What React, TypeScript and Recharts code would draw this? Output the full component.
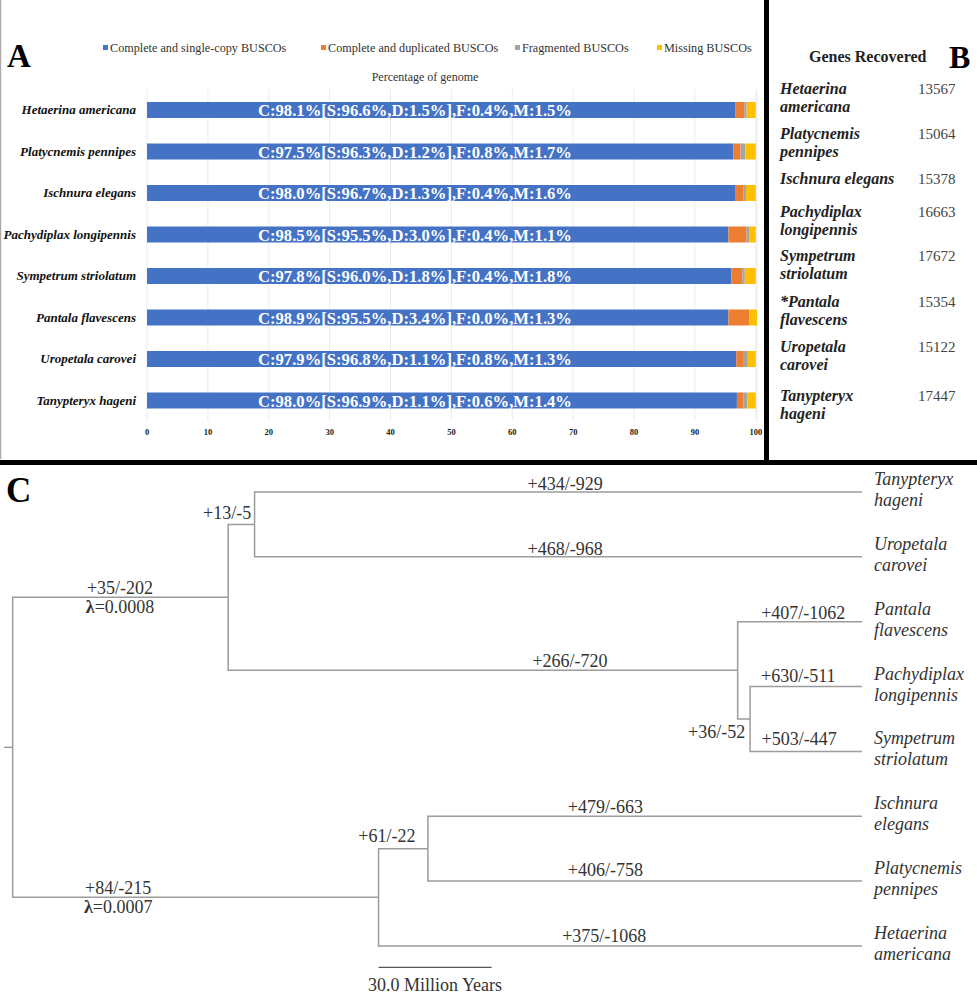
import React from "react";
import { BarChart, Bar, XAxis, YAxis, CartesianGrid, LabelList, ScatterChart, Scatter } from "recharts";

// ---- Panel A: BUSCO completeness ----
const species = [
  "Hetaerina americana",
  "Platycnemis pennipes",
  "Ischnura elegans",
  "Pachydiplax longipennis",
  "Sympetrum striolatum",
  "Pantala flavescens",
  "Uropetala carovei",
  "Tanypteryx hageni",
];
const completePct = [98.1, 97.5, 98.0, 98.5, 97.8, 98.9, 97.9, 98.0];
const singlePct = [96.6, 96.3, 96.7, 95.5, 96.0, 95.5, 96.8, 96.9];
const duplicatedPct = [1.5, 1.2, 1.3, 3.0, 1.8, 3.4, 1.1, 1.1];
const fragmentedPct = [0.4, 0.8, 0.4, 0.4, 0.4, 0.0, 0.8, 0.6];
const missingPct = [1.5, 1.7, 1.6, 1.1, 1.8, 1.3, 1.3, 1.4];
const pctTicks = [0, 10, 20, 30, 40, 50, 60, 70, 80, 90, 100];

const seriesKeys = ["single", "duplicated", "fragmented", "missing"];
const seriesNames = [
  "Complete and single-copy BUSCOs",
  "Complete and duplicated BUSCOs",
  "Fragmented BUSCOs",
  "Missing BUSCOs",
];
const seriesColors = ["#4472C4", "#ED7D31", "#A5A5A5", "#FFC000"];

// ---- Panel B: genes recovered ----
const tableNames = [
  ["Hetaerina", "americana"],
  ["Platycnemis", "pennipes"],
  ["Ischnura elegans"],
  ["Pachydiplax", "longipennis"],
  ["Sympetrum", "striolatum"],
  ["*Pantala", "flavescens"],
  ["Uropetala", "carovei"],
  ["Tanypteryx", "hageni"],
];
const genesRecovered = [13567, 15064, 15378, 16663, 17672, 15354, 15122, 17447];

// ---- Panel C: gene family gain/loss tree (ages in million years) ----
const treeNodes = ["root", "anis", "petal", "tany", "urop", "libel", "pant", "ps", "pach", "symp", "zyg", "ip", "isch", "platy", "het"];
const treeParents = [-1, 0, 1, 2, 2, 1, 5, 5, 7, 7, 0, 10, 11, 11, 10];
const treeAges = [225.4, 168.2, 161.2, 0, 0, 33.0, 0, 29.7, 0, 0, 128.3, 115.2, 0, 0, 0];
const branchGains = [0, 35, 13, 434, 468, 266, 407, 36, 630, 503, 84, 61, 479, 406, 375];
const branchLosses = [0, 202, 5, 929, 968, 720, 1062, 52, 511, 447, 215, 22, 663, 758, 1068];
const branchLambdas = [0, 0.0008, 0, 0, 0, 0, 0, 0, 0, 0, 0.0007, 0, 0, 0, 0];
const leafLabels: Record<string, string[]> = {
  tany: ["Tanypteryx", "hageni"],
  urop: ["Uropetala", "carovei"],
  pant: ["Pantala", "flavescens"],
  pach: ["Pachydiplax", "longipennis"],
  symp: ["Sympetrum", "striolatum"],
  isch: ["Ischnura", "elegans"],
  platy: ["Platycnemis", "pennipes"],
  het: ["Hetaerina", "americana"],
};
const scaleBarMy = 30;

// layout of the branch labels (age where the label sits, anchor, vertical shift)
const labelPlacement: Record<string, { at: number; anchor: string; dy: number }> = {
  anis: { at: 196.9, anchor: "middle", dy: -3 },
  petal: { at: 162.1, anchor: "end", dy: -5 },
  tany: { at: 78.8, anchor: "middle", dy: -2 },
  urop: { at: 78.8, anchor: "middle", dy: -2 },
  libel: { at: 77.5, anchor: "middle", dy: -3 },
  pant: { at: 15.6, anchor: "middle", dy: -3 },
  ps: { at: 31.0, anchor: "end", dy: 19 },
  pach: { at: 16.9, anchor: "middle", dy: -5 },
  symp: { at: 16.7, anchor: "middle", dy: -6 },
  zyg: { at: 197.4, anchor: "middle", dy: -3 },
  ip: { at: 126.1, anchor: "middle", dy: -7 },
  isch: { at: 68.1, anchor: "middle", dy: -3 },
  platy: { at: 68.1, anchor: "middle", dy: -5 },
  het: { at: 68.4, anchor: "middle", dy: -4 },
};
const tableBaselines = [94, 139, 184, 217, 261, 307, 352, 401];
const legendLeft = [103, 321, 515, 657];

const fmt = (v: number) => v.toFixed(1) + "%";

const barData = species.map((name, i) => ({
  name,
  single: singlePct[i],
  duplicated: duplicatedPct[i],
  fragmented: fragmentedPct[i],
  missing: missingPct[i],
  label: `C:${fmt(completePct[i])}[S:${fmt(singlePct[i])},D:${fmt(duplicatedPct[i])}],F:${fmt(fragmentedPct[i])},M:${fmt(missingPct[i])}`,
}));

// tree layout: leaves get consecutive rows, internal nodes sit at the mean of children
const childrenOf = treeNodes.map((_, i) => treeParents.map((p, j) => (p === i ? j : -1)).filter((j) => j >= 0));
const rowOf: number[] = [];
let leafCount = 0;
const placeNode = (i: number) => {
  if (childrenOf[i].length === 0) {
    rowOf[i] = leafCount++;
  } else {
    childrenOf[i].forEach(placeNode);
    rowOf[i] = childrenOf[i].reduce((s, c) => s + rowOf[c], 0) / childrenOf[i].length;
  }
};
placeNode(0);

const rootStub = 2.3;
const branches = treeNodes.map((_, i) => {
  if (i === 0) {
    return [
      { x: treeAges[0] + rootStub, y: rowOf[0] },
      { x: treeAges[0], y: rowOf[0] },
    ];
  }
  const p = treeParents[i];
  return [
    { x: treeAges[p], y: rowOf[p] },
    { x: treeAges[p], y: rowOf[i] },
    { x: treeAges[i], y: rowOf[i] },
  ];
});

const branchLabelData = treeNodes
  .map((id, i) => ({ id, i }))
  .filter((d) => d.i > 0)
  .map(({ id, i }) => ({
    x: labelPlacement[id].at,
    y: rowOf[i],
    text: `+${branchGains[i]}/-${branchLosses[i]}`,
    lambda: branchLambdas[i],
    anchor: labelPlacement[id].anchor,
    dy: labelPlacement[id].dy,
  }));

const leafData = treeNodes
  .map((id, i) => ({ id, i }))
  .filter((d) => childrenOf[d.i].length === 0)
  .map(({ id, i }) => ({ x: treeAges[i], y: rowOf[i], lines: leafLabels[id] }));

const scaleBarStart = treeAges[10];
const scaleBarRow = 7.33;
const scaleBar = [
  { x: scaleBarStart, y: scaleBarRow },
  { x: scaleBarStart - scaleBarMy, y: scaleBarRow },
];
const scaleText = [{ x: scaleBarStart - scaleBarMy / 2, y: scaleBarRow, text: `${scaleBarMy.toFixed(1)} Million Years` }];

const serif = '"Liberation Serif", "Times New Roman", serif';
const branchColor = "#9c9c9c";
const textColor = "#333";

const BarText = (props: any) => {
  const { x, y, height, value } = props;
  return (
    <text
      x={x + 111}
      y={y + height / 2 + 6}
      fill="#fff"
      fontSize={17}
      fontWeight="bold"
      textLength={314}
      lengthAdjust="spacingAndGlyphs"
    >
      {value}
    </text>
  );
};

const SpeciesTick = (props: any) => {
  const { x, y, payload } = props;
  return (
    <text x={x} y={y} dy={4.5} textAnchor="end" fontSize={13} fontWeight="bold" fontStyle="italic" fill="#111">
      {payload.value}
    </text>
  );
};

const NoDot = () => <g />;

const BranchLabel = (props: any) => {
  const { cx, cy, payload } = props;
  return (
    <g>
      <text x={cx} y={cy + payload.dy} textAnchor={payload.anchor} fontSize={18} fill={textColor}>
        {payload.text}
      </text>
      {payload.lambda ? (
        <text x={cx} y={cy + payload.dy + 19} textAnchor={payload.anchor} fontSize={18} fill={textColor}>
          <tspan fontWeight="bold">λ</tspan>={payload.lambda.toFixed(4)}
        </text>
      ) : null}
    </g>
  );
};

const LeafLabel = (props: any) => {
  const { cx, cy, payload } = props;
  return (
    <text x={cx + 12} y={cy - 7} fontSize={18} fontStyle="italic" fill={textColor}>
      <tspan x={cx + 12}>{payload.lines[0]}</tspan>
      <tspan x={cx + 12} dy={21}>
        {payload.lines[1]}
      </tspan>
    </text>
  );
};

const ScaleLabel = (props: any) => {
  const { cx, cy, payload } = props;
  return (
    <text x={cx} y={cy + 24} textAnchor="middle" fontSize={18} fill={textColor}>
      {payload.text}
    </text>
  );
};

export default function App() {
  return (
    <div
      style={{
        position: "absolute",
        left: 0,
        top: 0,
        width: 977,
        height: 1000,
        overflow: "hidden",
        background: "#fff",
        fontFamily: serif,
      }}
    >
      <div style={{ position: "absolute", left: 0, top: 0 }}>
        <BarChart
          width={765}
          height={458}
          data={barData}
          layout="vertical"
          margin={{ top: 89, right: 8, bottom: 0, left: 7 }}
          barSize={16}
        >
          <CartesianGrid horizontal={false} stroke="#ececec" />
          <XAxis
            type="number"
            domain={[0, 100]}
            ticks={pctTicks}
            axisLine={false}
            tickLine={false}
            tickSize={0}
            tickMargin={8}
            height={37}
            tick={{ fontSize: 8.5, fontWeight: "bold", fill: "#222" }}
          />
          <YAxis
            type="category"
            dataKey="name"
            width={140}
            axisLine={false}
            tickLine={false}
            tickSize={0}
            tickMargin={11}
            tick={SpeciesTick}
          />
          {seriesKeys.map((k, i) => (
            <Bar key={k} dataKey={k} name={seriesNames[i]} stackId="busco" fill={seriesColors[i]} isAnimationActive={false}>
              {i === 0 ? <LabelList dataKey="label" content={BarText} /> : null}
            </Bar>
          ))}
        </BarChart>
      </div>

      <div style={{ position: "absolute", left: 0, top: 465 }}>
        <ScatterChart width={977} height={535} margin={{ top: 0, right: 115, bottom: 0, left: 4 }}>
          <XAxis type="number" dataKey="x" domain={[0, treeAges[0] + rootStub]} reversed hide />
          <YAxis type="number" dataKey="y" domain={[-0.416, 7.833]} reversed hide />
          {branches.map((pts, i) => (
            <Scatter
              key={treeNodes[i]}
              data={pts}
              line={{ stroke: branchColor, strokeWidth: 1.5 }}
              shape={NoDot}
              isAnimationActive={false}
            />
          ))}
          <Scatter data={scaleBar} line={{ stroke: "#555", strokeWidth: 1.2 }} shape={NoDot} isAnimationActive={false} />
          <Scatter data={scaleText} shape={ScaleLabel} isAnimationActive={false} />
          <Scatter data={branchLabelData} shape={BranchLabel} isAnimationActive={false} />
          <Scatter data={leafData} shape={LeafLabel} isAnimationActive={false} />
        </ScatterChart>
      </div>

      <svg width={977} height={1000} style={{ position: "absolute", left: 0, top: 0, pointerEvents: "none" }}>
        {/* frame */}
        <rect x={0} y={0} width={1.2} height={459} fill="#aaa" />
        <rect x={764} y={0} width={5} height={462} fill="#000" />
        <rect x={0} y={460} width={977} height={5} fill="#000" />

        {/* panel letters */}
        <text x={7} y={67} fontSize={33} fontWeight="bold" fill="#000">A</text>
        <text x={949} y={68} fontSize={32} fontWeight="bold" fill="#000">B</text>
        <text x={6} y={502} fontSize={35} fontWeight="bold" fill="#000">C</text>

        {/* legend for panel A */}
        {seriesNames.map((n, i) => (
          <g key={n}>
            <rect x={legendLeft[i]} y={45} width={5} height={5} fill={seriesColors[i]} />
            <text x={legendLeft[i] + 7} y={52} fontSize={12.2} fill="#333">
              {n}
            </text>
          </g>
        ))}
        <text x={425} y={81} fontSize={12} textAnchor="middle" fill="#333">
          Percentage of genome
        </text>

        {/* panel B table */}
        <text x={809} y={62} fontSize={16} fontWeight="bold" fill="#222">
          Genes Recovered
        </text>
        {tableNames.map((lines, i) => (
          <g key={i}>
            <text x={780} y={tableBaselines[i]} fontSize={16} fontWeight="bold" fontStyle="italic" fill="#222">
              {lines.map((l, j) => (
                <tspan key={j} x={780} dy={j === 0 ? 0 : 18}>
                  {l}
                </tspan>
              ))}
            </text>
            <text x={918} y={tableBaselines[i]} fontSize={15} fill="#444">
              {genesRecovered[i]}
            </text>
          </g>
        ))}
      </svg>
    </div>
  );
}
